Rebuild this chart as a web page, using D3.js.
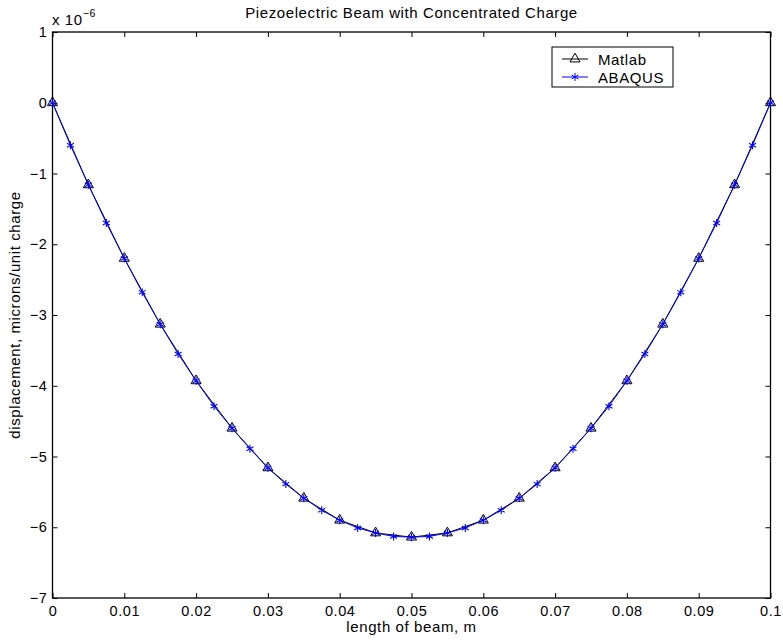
<!DOCTYPE html>
<html>
<head>
<meta charset="utf-8">
<script src="https://cdn.jsdelivr.net/npm/d3@7"></script>
<style>
  body { margin: 0; background: #fff; }
  text { font-family: "Liberation Sans", Arial, sans-serif; fill: #000; letter-spacing: 0.6px; }
</style>
</head>
<body>
<script>

// data (displacement in units of 1e-6)

const matlabX = [0, 0.005, 0.01, 0.015, 0.02, 0.025, 0.03, 0.035, 0.04, 0.045, 0.05,
                 0.055, 0.06, 0.065, 0.07, 0.075, 0.08, 0.085, 0.09, 0.095, 0.1];
const matlabY = [0, -1.16, -2.20, -3.13, -3.93, -4.60, -5.16, -5.59, -5.90, -6.08, -6.14,
                 -6.08, -5.90, -5.59, -5.16, -4.60, -3.93, -3.13, -2.20, -1.16, 0];

const abaqusX = [0, 0.0025, 0.005, 0.0075, 0.01, 0.0125, 0.015, 0.0175, 0.02, 0.0225,
                 0.025, 0.0275, 0.03, 0.0325, 0.035, 0.0375, 0.04, 0.0425, 0.045, 0.0475,
                 0.05, 0.0525, 0.055, 0.0575, 0.06, 0.0625, 0.065, 0.0675, 0.07, 0.0725,
                 0.075, 0.0775, 0.08, 0.0825, 0.085, 0.0875, 0.09, 0.0925, 0.095, 0.0975, 0.1];
const abaqusY = [0, -0.60, -1.16, -1.70, -2.20, -2.68, -3.13, -3.55, -3.93, -4.29,
                 -4.60, -4.89, -5.16, -5.39, -5.59, -5.76, -5.90, -6.01, -6.08, -6.13,
                 -6.14, -6.13, -6.08, -6.01, -5.90, -5.76, -5.59, -5.39, -5.16, -4.89,
                 -4.60, -4.29, -3.93, -3.55, -3.13, -2.68, -2.20, -1.70, -1.16, -0.60, 0];

const xTicks = [0, 0.01, 0.02, 0.03, 0.04, 0.05, 0.06, 0.07, 0.08, 0.09, 0.1];
const yTicks = [1, 0, -1, -2, -3, -4, -5, -6, -7];

const matlab = matlabX.map((x, i) => ({ x, y: matlabY[i] }));
const abaqus = abaqusX.map((x, i) => ({ x, y: abaqusY[i] }));

// dimensions

const dms = { width: 783, height: 642, left: 52.5, right: 770.5, top: 32, bottom: 598 };

const svg = d3.select("body").append("svg")
    .attr("width", dms.width)
    .attr("height", dms.height);

const xScale = d3.scaleLinear().domain([0, 0.1]).range([dms.left, dms.right]);
const yScale = d3.scaleLinear().domain([-7, 1]).range([dms.bottom, dms.top]);

// axes box with inward ticks

const tickLen = 5;
const fmtX = d => d === 0 ? "0" : String(+d.toFixed(2));
const fmtY = d => d < 0 ? "\u2212" + Math.abs(d) : String(d);
const tickFont = g => g.selectAll("text")
    .style("font-size", "14.5px")
    .style("font-family", "Liberation Sans, Arial, sans-serif");

svg.append("g")
    .attr("transform", `translate(0,${dms.bottom})`)
    .call(d3.axisBottom(xScale).tickValues(xTicks).tickSize(-tickLen).tickPadding(8).tickFormat(fmtX))
    .call(g => g.select(".domain").remove())
    .call(tickFont);

svg.append("g")
    .attr("transform", `translate(0,${dms.top})`)
    .call(d3.axisTop(xScale).tickValues(xTicks).tickSize(-tickLen).tickFormat(""))
    .call(g => g.select(".domain").remove());

svg.append("g")
    .attr("transform", `translate(${dms.left},0)`)
    .call(d3.axisLeft(yScale).tickValues(yTicks).tickSize(-tickLen).tickPadding(5).tickFormat(fmtY))
    .call(g => g.select(".domain").remove())
    .call(tickFont);

svg.append("g")
    .attr("transform", `translate(${dms.right},0)`)
    .call(d3.axisRight(yScale).tickValues(yTicks).tickSize(-tickLen).tickFormat(""))
    .call(g => g.select(".domain").remove());

svg.selectAll(".tick line").attr("stroke", "#000");

svg.append("rect")
    .attr("x", dms.left).attr("y", dms.top)
    .attr("width", dms.right - dms.left).attr("height", dms.bottom - dms.top)
    .attr("fill", "none").attr("stroke", "#000").attr("stroke-width", 1.3);

// lines

const line = d3.line().x(d => xScale(d.x)).y(d => yScale(d.y));

svg.append("path").datum(matlab)
    .attr("d", line).attr("fill", "none").attr("stroke", "#000").attr("stroke-width", 1);

const tri = d3.symbol().type(d3.symbolTriangle).size(44);

svg.append("g").selectAll("path")
    .data(matlab).enter()
    .append("path")
        .attr("d", tri)
        .attr("transform", d => `translate(${xScale(d.x)},${yScale(d.y)})`)
        .attr("fill", "none").attr("stroke", "#000").attr("stroke-width", 1);

svg.append("path").datum(abaqus)
    .attr("d", line).attr("fill", "none").attr("stroke", "#0000ff").attr("stroke-width", 1);

const star = d3.symbol().type(d3.symbolAsterisk).size(44);

svg.append("g").selectAll("path")
    .data(abaqus).enter()
    .append("path")
        .attr("d", star)
        .attr("transform", d => `translate(${xScale(d.x)},${yScale(d.y)})`)
        .attr("fill", "none").attr("stroke", "#0000ff").attr("stroke-width", 1.1);

// texts

svg.append("text")
    .attr("x", (dms.left + dms.right) / 2).attr("y", 18)
    .attr("text-anchor", "middle").style("font-size", "15px")
    .text("Piezoelectric Beam with Concentrated Charge");

svg.append("text")
    .attr("x", (dms.left + dms.right) / 2).attr("y", 632)
    .attr("text-anchor", "middle").style("font-size", "15px")
    .text("length of beam, m");

svg.append("text")
    .attr("transform", `translate(20,${(dms.top + dms.bottom) / 2}) rotate(-90)`)
    .attr("text-anchor", "middle").style("font-size", "15px")
    .text("displacement, microns/unit charge");

const expo = svg.append("text").attr("x", 52).attr("y", 25).style("font-size", "15px");
expo.append("tspan").text("x 10");
expo.append("tspan").attr("dy", -8).style("font-size", "10.5px").text("\u22126");

// legend

const lg = svg.append("g").attr("transform", "translate(552,47)");
lg.append("rect").attr("width", 121).attr("height", 40)
    .attr("fill", "#fff").attr("stroke", "#000").attr("stroke-width", 1);

const legendItems = [
    { name: "Matlab", color: "#000", sym: tri },
    { name: "ABAQUS", color: "#0000ff", sym: star }
];

legendItems.forEach((it, i) => {
    const y = 12 + i * 18;
    lg.append("line").attr("x1", 10).attr("x2", 36).attr("y1", y).attr("y2", y)
        .attr("stroke", it.color).attr("stroke-width", 1);
    lg.append("path").attr("d", it.sym).attr("transform", `translate(23,${y})`)
        .attr("fill", "none").attr("stroke", it.color);
    lg.append("text").attr("x", 46).attr("y", y + 5.5).style("font-size", "15px").text(it.name);
});

</script>
</body>
</html>
